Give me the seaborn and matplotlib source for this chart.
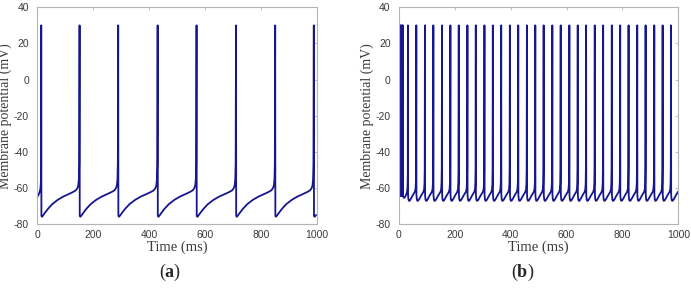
import matplotlib
matplotlib.use("Agg")
import matplotlib.pyplot as plt
import numpy as np
import pandas as pd
import seaborn as sns

# ---- data ----
# (a) regular spiking: spike times (ms), peak value, onset before first spike
spikes_a = [14, 151, 289, 430, 569, 710, 850, 988]
onset_a_t = [0, 4, 8, 11, 12.8, 13.6]
onset_a_v = [-65, -64, -62.5, -60.5, -57, -50]
# one recovery cycle after a spike (ms after spike, mV), period ~139 ms
period_a = 139
cycle_a_t = [0.6, 3, 8, 15, 25, 40, 60, 80, 100, 115, 125, 131, 134.5, 136.5, 137.8]
cycle_a_v = [-75.5, -76, -75, -73.5, -71.5, -69, -66.6, -64.8, -63.4, -62.3, -61.4, -60.2, -58.5, -55, -46]

# (b) fast spiking: initial burst, then regular spikes
onset_b_t = [0, 0.6, 0.8, 1.2, 2.8, 3.3, 3.5, 3.9, 5.9, 6.4, 6.6, 7.0, 9.7, 10.2, 10.4,
             10.8, 13.4, 13.9, 14.1, 14.5, 17, 21, 25, 28.5, 30.5, 31.5]
onset_b_v = [-65, -55, 30, -64.5, -62, -55, 30, -64.5, -62, -55, 30, -64.5, -62, -55, 30,
             -64.5, -62, -55, 30, -64.5, -65.5, -65.3, -64, -62.5, -60, -53]
spikes_b = [32, 62, 93, 123, 154, 184, 214, 245, 275, 306, 336, 366, 397, 427, 458, 488,
            518, 549, 579, 610, 640, 670, 701, 731, 762, 792, 822, 853, 883, 914, 944, 974]
period_b = 30.4
cycle_b_t = [0.5, 2, 4, 7, 11, 16, 21, 25, 27.5, 28.8, 29.6]
cycle_b_v = [-64, -66.5, -67.2, -67, -66, -64.5, -63.2, -62.2, -60.8, -57.5, -49]

peak = 30
t_end = 1000


def build_trace(onset_t, onset_v, spikes, cyc_t, cyc_v, period):
    t = list(onset_t)
    v = list(onset_v)
    for i, s in enumerate(spikes):
        t.append(s)
        v.append(peak)
        nxt = spikes[i + 1] if i + 1 < len(spikes) else s + period
        k = (nxt - s) / period
        for ct, cv in zip(cyc_t, cyc_v):
            tt = s + ct * k
            if tt > t_end:
                break
            t.append(tt)
            v.append(cv)
    return pd.DataFrame({"time": t, "v": v})


df_a = build_trace(onset_a_t, onset_a_v, spikes_a, cycle_a_t, cycle_a_v, period_a)
df_b = build_trace(onset_b_t, onset_b_v, spikes_b, cycle_b_t, cycle_b_v, period_b)

sns.set_style("white")
plt.rcParams["font.family"] = ["Liberation Sans", "DejaVu Sans"]
plt.rcParams["axes.unicode_minus"] = False
plt.rcParams["mathtext.fontset"] = "custom"
plt.rcParams["mathtext.rm"] = "Liberation Serif"
plt.rcParams["mathtext.bf"] = "Liberation Serif:bold"

line_col = "#16168e"
axis_col = "#b4b4b4"
text_col = "#3a3a3a"
serif = ["Liberation Serif", "DejaVu Serif"]

fig = plt.figure(figsize=(6.91, 2.93), dpi=100)
axes = [fig.add_axes([0.054, 0.2355, 0.405, 0.7396]),
        fig.add_axes([0.5774, 0.2355, 0.4042, 0.7396])]

for ax, df, tag, xc in zip(axes, [df_a, df_b], ["a", "b"], [0.246, 0.7564]):
    sns.lineplot(data=df, x="time", y="v", ax=ax, color=line_col, lw=1.3,
                 estimator=None, sort=False)
    ax.set_xlim(0, 1000)
    ax.set_ylim(-80, 40)
    ax.set_xticks(np.arange(0, 1001, 200))
    ax.set_yticks(np.arange(-80, 41, 20))
    ax.tick_params(direction="in", length=2.5, width=0.6, color=axis_col,
                   top=True, right=True, labelsize=7.5, labelcolor=text_col)
    ax.tick_params(axis="y", pad=6)
    ax.tick_params(axis="x", pad=4)
    for sp in ax.spines.values():
        sp.set_color(axis_col)
        sp.set_linewidth(0.8)
    ax.set_xlabel("Time (ms)", family=serif, fontsize=10.5, color=text_col, labelpad=1)
    ax.set_ylabel("Membrane potential (mV)", family=serif, fontsize=10, color=text_col,
                  labelpad=1)
    fig.text(xc, 0.07, r"(" + r"$\mathbf{" + tag + r"}$" + ")", family=serif,
             fontsize=13, ha="center", va="center")

fig.savefig("out.png", dpi=100)
